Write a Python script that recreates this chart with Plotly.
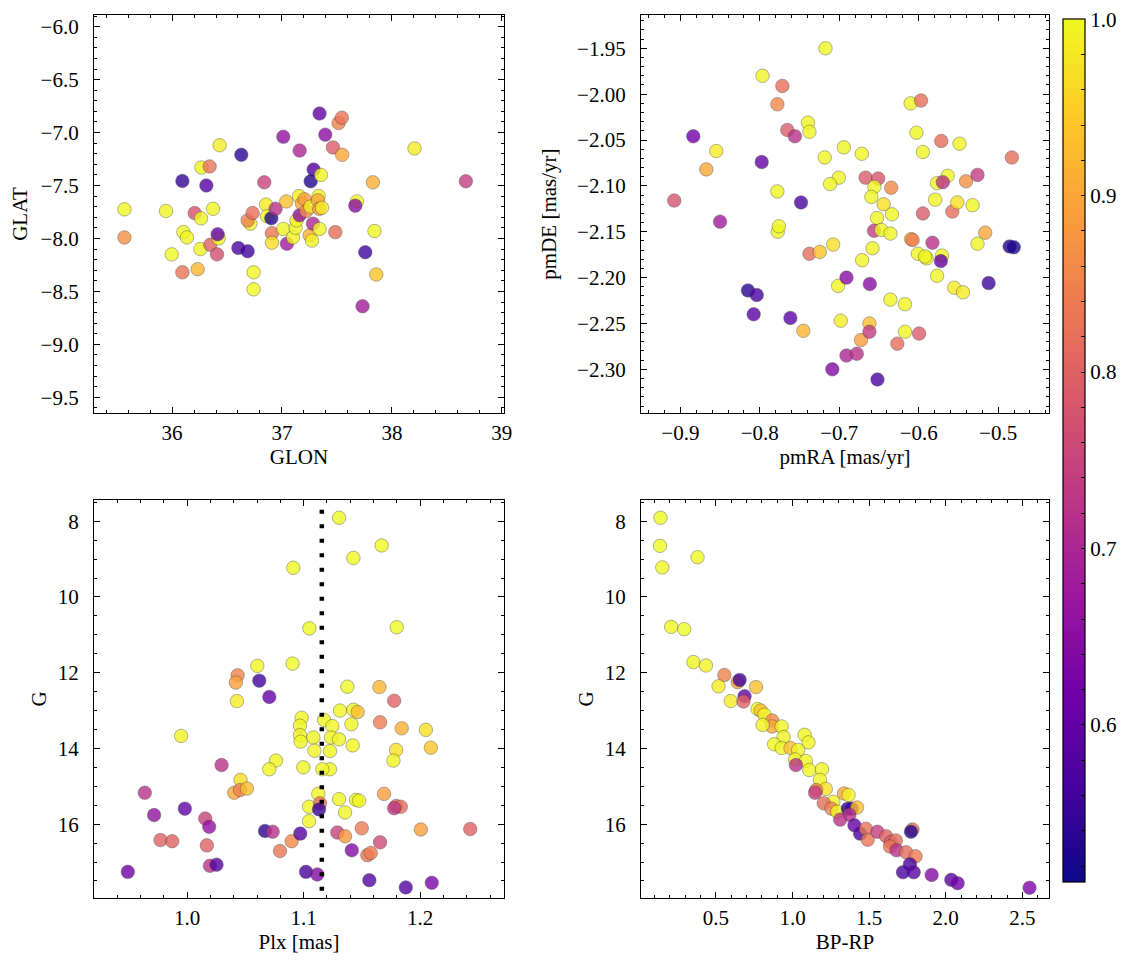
import plotly.graph_objects as go

# ---------------- data ----------------
# Panel 1: sky positions
glon = [35.567, 35.567, 35.945, 35.997, 36.094, 36.103, 36.136, 36.094, 36.233, 36.206,
        36.264, 36.258, 36.267, 36.342, 36.312, 36.373, 36.348, 36.409, 36.424, 36.415,
        36.433, 36.630, 36.603, 36.688, 36.742, 36.742, 36.712, 36.688, 36.733, 36.839,
        36.855, 36.864, 36.903, 36.942, 36.909, 36.909, 37.012, 37.039, 37.012, 37.045,
        37.100, 37.124, 37.133, 37.161, 37.155, 37.161, 37.182, 37.206, 37.221, 37.258,
        37.252, 37.273, 37.282, 37.288, 37.261, 37.355, 37.342, 37.333, 37.327, 37.339,
        37.364, 37.342, 37.394, 37.464, 37.485, 37.515, 37.545, 37.548, 37.682, 37.667,
        37.758, 37.733, 37.827, 37.842, 37.858, 38.206, 38.673]
glat = [-7.725, -7.990, -7.740, -8.150, -7.457, -7.940, -7.990, -8.320, -8.290, -7.760,
        -7.810, -8.100, -7.330, -7.320, -7.500, -7.720, -8.060, -8.150, -8.000, -7.960,
        -7.120, -7.210, -8.090, -8.120, -8.320, -8.480, -7.860, -7.830, -7.760, -7.470,
        -7.680, -7.790, -7.810, -7.720, -7.950, -8.040, -7.040, -7.650, -7.910, -8.050,
        -7.990, -7.900, -7.830, -7.170, -7.600, -7.780, -7.670, -7.630, -7.740, -7.700,
        -7.970, -8.020, -7.860, -7.350, -7.460, -7.400, -6.820, -7.600, -7.640, -7.720,
        -7.710, -7.910, -7.020, -7.140, -7.940, -6.910, -6.860, -7.210, -7.650, -7.690,
        -8.130, -8.640, -7.470, -7.930, -8.340, -7.150, -7.460]
prob_sky = [1.00, 0.87, 0.995, 1.00, 0.55, 1.00, 0.995, 0.83, 0.92, 0.78,
            0.995, 0.995, 0.995, 0.83, 0.58, 0.995, 0.80, 0.77, 0.995, 0.60,
            0.985, 0.54, 0.57, 0.56, 0.995, 1.00, 0.995, 0.85, 0.82, 0.75,
            0.985, 0.995, 0.53, 0.72, 0.83, 0.97, 0.66, 0.93, 0.995, 0.68,
            0.995, 0.995, 0.995, 0.70, 0.985, 0.66, 0.90, 0.89, 0.86, 0.985,
            0.91, 0.995, 0.70, 0.58, 0.53, 0.995, 0.60, 0.995, 0.90, 0.88,
            0.985, 0.995, 0.65, 0.79, 0.82, 0.85, 0.83, 0.90, 0.995, 0.65,
            0.56, 0.68, 0.91, 1.00, 0.94, 0.985, 0.74]

# Panel 2: proper motions
pmra = [-0.7173, -0.7966, -0.7716, -0.7779, -0.8837, -0.8548, -0.8673, -0.9077, -0.8500, -0.7976,
        -0.7654, -0.7558, -0.7394, -0.7375, -0.7779, -0.7774, -0.7760, -0.7481, -0.7183, -0.6942,
        -0.7005, -0.7115, -0.7375, -0.7245, -0.7077, -0.8149, -0.8038, -0.8077, -0.7615, -0.7452,
        -0.7014, -0.6909, -0.6981, -0.7087, -0.6909, -0.6779, -0.6726, -0.6620, -0.6620, -0.6519,
        -0.6615, -0.6716, -0.6668, -0.6510, -0.6558, -0.6596, -0.6442, -0.6524, -0.6337, -0.6562,
        -0.6471, -0.6356, -0.6346, -0.6582, -0.6712, -0.6356, -0.6173, -0.6173, -0.6269, -0.5995,
        -0.6101, -0.5971, -0.6029, -0.5947, -0.5716, -0.5486, -0.4827, -0.5635, -0.5769, -0.5697,
        -0.5404, -0.5260, -0.5793, -0.5947, -0.5577, -0.5514, -0.5322, -0.5163, -0.5260, -0.6096,
        -0.6077, -0.5827, -0.6010, -0.5899, -0.5920, -0.5707, -0.5721, -0.5769, -0.5553, -0.5442,
        -0.5120, -0.4856, -0.4803]
pmde = [-1.950, -1.980, -1.991, -2.011, -2.046, -2.062, -2.082, -2.116, -2.139, -2.074,
        -2.039, -2.046, -2.031, -2.041, -2.106, -2.150, -2.144, -2.118, -2.069, -2.058,
        -2.091, -2.098, -2.174, -2.172, -2.164, -2.214, -2.219, -2.240, -2.244, -2.258,
        -2.209, -2.200, -2.247, -2.300, -2.285, -2.283, -2.268, -2.250, -2.259, -2.311,
        -2.207, -2.065, -2.091, -2.092, -2.101, -2.112, -2.120, -2.135, -2.131, -2.149,
        -2.148, -2.152, -2.102, -2.168, -2.181, -2.224, -2.229, -2.259, -2.272, -2.261,
        -2.010, -2.007, -2.042, -2.063, -2.051, -2.054, -2.069, -2.089, -2.097, -2.096,
        -2.095, -2.088, -2.115, -2.130, -2.128, -2.118, -2.121, -2.151, -2.163, -2.158,
        -2.159, -2.162, -2.174, -2.179, -2.177, -2.176, -2.182, -2.198, -2.211, -2.216,
        -2.206, -2.166, -2.167]
prob_pm = [0.995, 0.995, 0.82, 0.86, 0.62, 0.985, 0.90, 0.78, 0.68, 0.60,
           0.79, 0.72, 0.995, 0.995, 0.995, 0.995, 0.995, 0.57, 0.995, 0.995,
           0.995, 0.995, 0.82, 0.94, 0.97, 0.54, 0.57, 0.59, 0.59, 0.92,
           0.995, 0.65, 0.985, 0.64, 0.70, 0.72, 0.89, 0.93, 0.74, 0.57,
           0.65, 0.995, 0.79, 0.78, 0.995, 0.995, 0.97, 0.995, 0.995, 0.74,
           0.995, 0.995, 0.86, 0.995, 0.995, 0.995, 0.995, 0.995, 0.82, 0.79,
           0.995, 0.82, 0.995, 0.995, 0.82, 0.995, 0.82, 0.995, 0.995, 0.72,
           0.87, 0.74, 0.995, 0.79, 0.82, 0.97, 0.995, 0.90, 0.995, 0.92,
           0.84, 0.72, 0.995, 0.995, 0.995, 0.995, 0.60, 0.995, 0.985, 0.985,
           0.56, 0.54, 0.52]

# Panel 3: parallax vs G
plx = [1.1304, 1.1670, 1.1427, 1.0911, 1.1049, 1.1799, 1.0905, 1.0602, 1.0433, 1.0418,
       1.0619, 1.0705, 1.0427, 1.1375, 1.1650, 1.1777, 1.1312, 1.1427, 1.1464, 1.0983,
       1.1175, 1.1246, 1.0968, 1.1410, 1.1656, 1.1842, 1.2049, 0.9948, 1.0968, 1.1083,
       1.1235, 1.1304, 1.0974, 1.1421, 1.1092, 1.1226, 1.1794, 1.2092, 1.0295, 1.0762,
       1.0705, 1.0997, 1.1226, 1.1160, 1.1771, 1.0458, 1.0404, 1.0453, 1.0513, 1.1126,
       1.1304, 1.1450, 1.1476, 1.1690, 1.1046, 1.1140, 1.1132, 1.1355, 1.1046, 1.1794,
       1.1834, 1.1777, 0.9636, 0.9716, 0.9980, 1.0155, 1.0189, 0.9771, 0.9871, 1.0169,
       1.0195, 1.0252, 0.9490, 1.0668, 1.0734, 1.0797, 1.0897, 1.0971, 1.1020, 1.1117,
       1.1289, 1.1355, 1.1413, 1.1499, 1.1547, 1.1576, 1.1656, 1.1564, 1.1877, 1.2100,
       1.2006, 1.2430]
g_plx = [7.91, 8.64, 8.97, 9.23, 10.83, 10.80, 11.76, 11.82, 12.07, 12.26,
         12.21, 12.64, 12.75, 12.37, 12.38, 12.74, 13.00, 12.98, 13.04, 13.19,
         13.25, 13.41, 13.40, 13.36, 13.31, 13.47, 13.51, 13.67, 13.65, 13.71,
         13.71, 13.76, 13.82, 13.92, 14.06, 14.07, 14.04, 13.98, 14.44, 14.32,
         14.55, 14.50, 14.55, 14.55, 14.32, 14.83, 15.17, 15.10, 15.06, 15.20,
         15.34, 15.36, 15.38, 15.20, 15.54, 15.45, 15.61, 15.69, 15.92, 15.52,
         15.54, 15.58, 15.17, 15.76, 15.59, 15.85, 16.07, 16.42, 16.45, 16.56,
         17.10, 17.07, 17.26, 16.18, 16.20, 16.71, 16.45, 16.25, 17.26, 17.33,
         16.22, 16.32, 16.69, 16.11, 16.82, 16.76, 16.48, 17.48, 17.67, 17.55,
         16.14, 16.13]
prob_plx = [1.00, 1.00, 1.00, 1.00, 1.00, 1.00, 1.00, 0.995, 0.85, 0.89,
            0.56, 0.60, 0.985, 1.00, 0.92, 0.80, 0.995, 0.995, 0.93, 0.995,
            0.995, 0.995, 0.995, 0.995, 0.84, 0.91, 0.97, 0.995, 0.995, 0.995,
            0.995, 0.995, 0.995, 0.995, 0.995, 0.995, 0.97, 0.94, 0.72, 0.995,
            0.995, 0.995, 0.995, 0.995, 0.995, 0.97, 0.90, 0.85, 0.93, 0.995,
            0.995, 0.995, 0.995, 0.89, 0.995, 0.82, 0.55, 0.995, 0.995, 0.80,
            0.82, 0.73, 0.72, 0.66, 0.60, 0.75, 0.66, 0.80, 0.80, 0.80,
            0.72, 0.58, 0.62, 0.54, 0.72, 0.83, 0.86, 0.58, 0.57, 0.64,
            0.75, 0.88, 0.64, 0.84, 0.83, 0.84, 0.76, 0.58, 0.58, 0.63,
            0.89, 0.80]
plx_mean = [1.1156, 1.1156]
plx_line_g = [7.70, 17.95]

# Panel 4: colour-magnitude diagram
bp_rp = [0.138, 0.135, 0.150, 0.380, 0.208, 0.293, 0.353, 0.435, 0.555, 0.517,
         0.642, 0.655, 0.597, 0.762, 0.687, 0.680, 0.772, 0.792, 0.817, 0.867,
         0.867, 0.929, 0.805, 1.079, 1.104, 0.942, 0.880, 0.929, 0.987, 1.037,
         1.017, 1.087, 1.022, 1.109, 1.192, 1.179, 1.217, 1.154, 1.147, 1.336,
         1.366, 1.266, 1.204, 1.254, 1.292, 1.361, 1.386, 1.421, 1.371, 1.311,
         1.404, 1.441, 1.479, 1.491, 1.554, 1.611, 1.641, 1.674, 1.636, 1.679,
         1.741, 1.803, 1.783, 1.773, 1.766, 1.721, 1.791, 1.908, 2.036, 2.078,
         2.547]
g_cmd = [7.91, 8.65, 9.22, 8.95, 10.79, 10.85, 11.72, 11.81, 12.06, 12.36,
         12.25, 12.19, 12.75, 12.38, 12.62, 12.76, 12.96, 13.00, 13.11, 13.26,
         13.42, 13.42, 13.38, 13.64, 13.84, 13.70, 13.89, 13.99, 13.99, 14.04,
         14.29, 14.33, 14.44, 14.57, 14.55, 14.83, 15.07, 15.10, 15.17, 15.19,
         15.23, 15.41, 15.45, 15.59, 15.67, 15.59, 15.59, 15.56, 15.75, 15.88,
         16.03, 16.25, 16.12, 16.41, 16.20, 16.32, 16.47, 16.43, 16.59, 16.69,
         16.74, 16.85, 16.14, 16.20, 17.06, 17.27, 17.27, 17.34, 17.47, 17.56,
         17.68]
prob_cmd = [1.00, 1.00, 1.00, 1.00, 1.00, 1.00, 0.995, 0.995, 0.85, 0.985,
            0.89, 0.56, 0.985, 0.93, 0.60, 0.80, 0.995, 0.93, 0.995, 0.86,
            0.90, 0.995, 0.995, 0.995, 0.995, 0.995, 0.995, 0.995, 0.93, 0.995,
            0.995, 0.995, 0.72, 0.995, 0.995, 0.995, 0.97, 0.84, 0.74, 0.90,
            0.995, 0.995, 0.82, 0.85, 0.995, 0.54, 0.56, 0.93, 0.72, 0.72,
            0.60, 0.57, 0.83, 0.83, 0.74, 0.80, 0.79, 0.82, 0.83, 0.72,
            0.82, 0.84, 0.82, 0.53, 0.57, 0.57, 0.59, 0.64, 0.59, 0.62,
            0.63]

cb_ticks = [0.52, 0.54, 0.56, 0.58, 0.60, 0.62, 0.64, 0.66, 0.68, 0.70, 0.72, 0.74,
            0.76, 0.78, 0.80, 0.82, 0.84, 0.86, 0.88, 0.90, 0.92, 0.94, 0.96, 0.98, 1.00]
cb_labels = ["" if round(v * 100) % 10 else f"{v:.1f}" for v in cb_ticks]

# ---------------- figure ----------------
OFF = 8                      # page body margin in the browser
W, H = 1133 - OFF, 965 - OFF
FONT = "Liberation Serif, Times New Roman, serif"
FS = 21
CB_TOP, CB_BOT = 19, 882

fig = go.Figure()


def marker(c):
    return dict(color=c, coloraxis="coloraxis", size=13.5, opacity=0.8,
                line=dict(color="rgba(50,50,50,0.9)", width=0.5))


fig.add_trace(go.Scatter(x=glon, y=glat, mode="markers", marker=marker(prob_sky),
                         xaxis="x", yaxis="y", showlegend=False))
fig.add_trace(go.Scatter(x=pmra, y=pmde, mode="markers", marker=marker(prob_pm),
                         xaxis="x2", yaxis="y2", showlegend=False))
fig.add_trace(go.Scatter(x=plx, y=g_plx, mode="markers", marker=marker(prob_plx),
                         xaxis="x3", yaxis="y3", showlegend=False))
fig.add_trace(go.Scatter(x=plx_mean, y=plx_line_g, mode="lines",
                         line=dict(color="black", width=4.5, dash="4px,10.5px"),
                         xaxis="x3", yaxis="y3", showlegend=False))
fig.add_trace(go.Scatter(x=bp_rp, y=g_cmd, mode="markers", marker=marker(prob_cmd),
                         xaxis="x4", yaxis="y4", showlegend=False))


def px_x(a, b):
    return [(a - OFF) / W, (b - OFF) / W]


def px_y(top, bot):
    return [1 - (bot - OFF) / H, 1 - (top - OFF) / H]


def axis(domain, rng, dtick, minor, fmt, title, anchor, standoff, lstand, tick0=0):
    return dict(domain=domain, range=rng, anchor=anchor, dtick=dtick, tick0=tick0,
                tickformat=fmt, showline=True, linecolor="black", linewidth=1.3,
                mirror="allticks", ticks="inside", ticklen=6, tickwidth=1.1,
                tickcolor="black", showgrid=False, zeroline=False, automargin=False,
                ticklabelstandoff=lstand,
                minor=dict(dtick=minor, tick0=tick0, ticks="inside", ticklen=3,
                           tickwidth=0.9, tickcolor="black", showgrid=False),
                tickfont=dict(family=FONT, size=FS, color="black"),
                title=dict(text=title, font=dict(family=FONT, size=FS, color="black"),
                           standoff=standoff))


dx1 = px_x(94, 504)
dx2 = px_x(641, 1049)
dyt = px_y(15, 413)
dyb = px_y(500, 898)

fig.update_layout(
    width=W, height=H,
    margin=dict(l=0, r=0, t=0, b=0),
    paper_bgcolor="white", plot_bgcolor="white",
    font=dict(family=FONT, size=FS, color="black"),
    xaxis=axis(dx1, [35.29, 39.02], 1, 0.2, "d", "GLON", "y", 4, 1),
    yaxis=axis(dyt, [-9.648, -5.89], 0.5, 0.1, ".1f", "GLAT", "x", 22, 10),
    xaxis2=axis(dx2, [-0.9495, -0.436], 0.1, 0.02, ".1f", "pmRA [mas/yr]", "y2", 4, 1),
    yaxis2=axis(dyt, [-2.3476, -1.9137], 0.05, 0.01, ".2f", "pmDE [mas/yr]", "x2", 14, 10),
    xaxis3=axis(dx1, [0.920, 1.272], 0.1, 0.02, ".1f", "Plx [mas]", "y3", 4, 1),
    yaxis3=axis(dyb, [17.95, 7.44], 2, 0.5, "d", "G", "x3", 5, 10),
    xaxis4=axis(dx2, [0.011, 2.674], 0.5, 0.1, ".1f", "BP-RP", "y4", 4, 1),
    yaxis4=axis(dyb, [17.95, 7.44], 2, 0.5, "d", "G", "x4", 5, 10),
    coloraxis=dict(
        colorscale="Plasma", cmin=0.511, cmax=1.0001,
        colorbar=dict(
            x=(1063 - OFF) / W, xanchor="left", xpad=0, ypad=0,
            y=1 - ((CB_TOP + CB_BOT) / 2 - OFF) / H, yanchor="middle",
            len=(CB_BOT - CB_TOP) / H, lenmode="fraction",
            thickness=22, thicknessmode="pixels",
            outlinecolor="black", outlinewidth=1.2,
            tickmode="array", tickvals=cb_ticks, ticktext=cb_labels,
            ticks="inside", ticklen=4, tickwidth=1, tickcolor="black",
            ticklabeloverflow="allow",
            tickfont=dict(family=FONT, size=FS, color="black"),
        ),
    ),
)

fig.write_html("out.html")
